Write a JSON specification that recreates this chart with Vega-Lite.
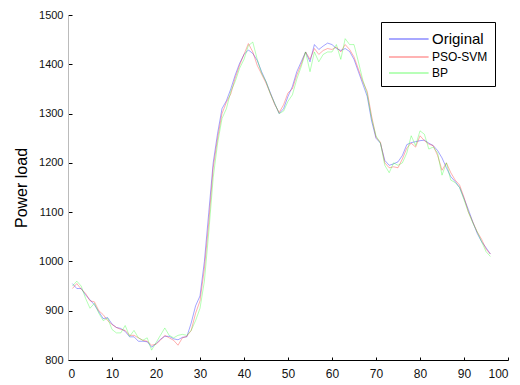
{
  "$schema": "https://vega.github.io/schema/vega-lite/v6.json",
  "width": 440,
  "height": 345,
  "autosize": {"type": "none"},
  "padding": {"left": 68, "top": 15, "right": 12, "bottom": 25},
  "background": "white",
  "config": {"view": {"stroke": null}, "font": "Liberation Sans"},
  "data": {"values": [
    {"t":1,"o":955,"p":945,"b":950},{"t":2,"o":945,"p":955,"b":960},{"t":3,"o":945,"p":944,"b":950},{"t":4,"o":932,"p":935,"b":925},{"t":5,"o":922,"p":920,"b":905},{"t":6,"o":912,"p":918,"b":915},{"t":7,"o":898,"p":900,"b":895},{"t":8,"o":884,"p":892,"b":880},{"t":9,"o":886,"p":880,"b":885},{"t":10,"o":873,"p":872,"b":862},
    {"t":11,"o":866,"p":866,"b":855},{"t":12,"o":864,"p":862,"b":855},{"t":13,"o":858,"p":860,"b":870},{"t":14,"o":847,"p":850,"b":848},{"t":15,"o":847,"p":850,"b":860},{"t":16,"o":838,"p":845,"b":845},{"t":17,"o":838,"p":840,"b":840},{"t":18,"o":837,"p":838,"b":845},{"t":19,"o":826,"p":830,"b":820},{"t":20,"o":833,"p":832,"b":835},
    {"t":21,"o":842,"p":840,"b":850},{"t":22,"o":848,"p":850,"b":865},{"t":23,"o":848,"p":845,"b":850},{"t":24,"o":843,"p":840,"b":845},{"t":25,"o":841,"p":830,"b":850},{"t":26,"o":846,"p":845,"b":852},{"t":27,"o":847,"p":848,"b":850},{"t":28,"o":875,"p":860,"b":860},{"t":29,"o":910,"p":895,"b":880},{"t":30,"o":930,"p":920,"b":905},
    {"t":31,"o":1000,"p":985,"b":960},{"t":32,"o":1100,"p":1080,"b":1060},{"t":33,"o":1200,"p":1190,"b":1170},{"t":34,"o":1260,"p":1250,"b":1240},{"t":35,"o":1310,"p":1300,"b":1290},{"t":36,"o":1326,"p":1323,"b":1310},{"t":37,"o":1350,"p":1340,"b":1345},{"t":38,"o":1378,"p":1372,"b":1365},{"t":39,"o":1402,"p":1398,"b":1392},{"t":40,"o":1420,"p":1420,"b":1410},
    {"t":41,"o":1429,"p":1442,"b":1438},{"t":42,"o":1422,"p":1425,"b":1445},{"t":43,"o":1408,"p":1398,"b":1410},{"t":44,"o":1385,"p":1380,"b":1382},{"t":45,"o":1365,"p":1362,"b":1365},{"t":46,"o":1342,"p":1340,"b":1340},{"t":47,"o":1320,"p":1318,"b":1320},{"t":48,"o":1300,"p":1302,"b":1300},{"t":49,"o":1310,"p":1318,"b":1305},{"t":50,"o":1335,"p":1342,"b":1325},
    {"t":51,"o":1355,"p":1350,"b":1338},{"t":52,"o":1385,"p":1378,"b":1370},{"t":53,"o":1405,"p":1400,"b":1395},{"t":54,"o":1425,"p":1425,"b":1425},{"t":55,"o":1405,"p":1410,"b":1385},{"t":56,"o":1440,"p":1432,"b":1425},{"t":57,"o":1430,"p":1420,"b":1405},{"t":58,"o":1437,"p":1428,"b":1420},{"t":59,"o":1443,"p":1432,"b":1425},{"t":60,"o":1440,"p":1430,"b":1425},
    {"t":61,"o":1432,"p":1435,"b":1440},{"t":62,"o":1428,"p":1425,"b":1410},{"t":63,"o":1432,"p":1440,"b":1452},{"t":64,"o":1426,"p":1430,"b":1440},{"t":65,"o":1410,"p":1415,"b":1440},{"t":66,"o":1385,"p":1390,"b":1405},{"t":67,"o":1360,"p":1365,"b":1368},{"t":68,"o":1335,"p":1345,"b":1340},{"t":69,"o":1285,"p":1295,"b":1290},{"t":70,"o":1250,"p":1252,"b":1255},
    {"t":71,"o":1240,"p":1242,"b":1240},{"t":72,"o":1205,"p":1200,"b":1195},{"t":73,"o":1195,"p":1190,"b":1180},{"t":74,"o":1198,"p":1192,"b":1200},{"t":75,"o":1202,"p":1190,"b":1195},{"t":76,"o":1215,"p":1208,"b":1200},{"t":77,"o":1237,"p":1230,"b":1220},{"t":78,"o":1241,"p":1240,"b":1255},{"t":79,"o":1243,"p":1232,"b":1235},{"t":80,"o":1245,"p":1255,"b":1265},
    {"t":81,"o":1246,"p":1245,"b":1258},{"t":82,"o":1240,"p":1238,"b":1228},{"t":83,"o":1235,"p":1235,"b":1232},{"t":84,"o":1225,"p":1215,"b":1220},{"t":85,"o":1210,"p":1185,"b":1175},{"t":86,"o":1190,"p":1200,"b":1200},{"t":87,"o":1172,"p":1180,"b":1165},{"t":88,"o":1162,"p":1165,"b":1160},{"t":89,"o":1150,"p":1155,"b":1150},{"t":90,"o":1128,"p":1130,"b":1125},
    {"t":91,"o":1105,"p":1100,"b":1100},{"t":92,"o":1080,"p":1080,"b":1078},{"t":93,"o":1057,"p":1060,"b":1060},{"t":94,"o":1040,"p":1045,"b":1040},{"t":95,"o":1028,"p":1025,"b":1020},{"t":96,"o":1015,"p":1015,"b":1010}
  ]},
  "transform": [
    {"fold": ["o", "p", "b"], "as": ["k", "v"]},
    {"lookup": "k", "from": {"data": {"values": [{"k": "o", "series": "Original", "ord": 0}, {"k": "p", "series": "PSO-SVM", "ord": 1}, {"k": "b", "series": "BP", "ord": 2}]}, "key": "k", "fields": ["series", "ord"]}}
  ],
  "mark": {"type": "line", "strokeWidth": 0.8, "opacity": 0.45},
  "encoding": {
    "x": {"field": "t", "type": "quantitative", "scale": {"domain": [0, 100], "nice": false}, "axis": {"values": [0,10,20,30,40,50,60,70,80,90,100], "title": null, "grid": false, "domainColor": "#000", "tickColor": "#000", "tickSize": -3, "labelPadding": 11, "labelFontSize": 12, "labelColor": "#111", "labelFont": "Liberation Sans", "format": "d"}},
    "y": {"field": "v", "type": "quantitative", "scale": {"domain": [800, 1500], "nice": false, "zero": false}, "axis": {"values": [800,900,1000,1100,1200,1300,1400,1500], "format": "d", "title": "Power load", "titleFontSize": 16, "titleFontWeight": "normal", "titleColor": "#000", "titlePadding": 9, "grid": false, "domainColor": "#bbb", "tickColor": "#000", "tickSize": -4, "labelPadding": 9, "labelFontSize": 11, "labelColor": "#111", "labelFont": "Liberation Sans"}},
    "order": {"field": "t", "type": "quantitative"},
    "detail": {"field": "ord"},
    "color": {
      "field": "series", "type": "nominal",
      "scale": {"domain": ["Original", "PSO-SVM", "BP"], "range": ["#0000ff", "#ff2020", "#30ff30"]},
      "legend": {
        "orient": "none", "legendX": 313, "legendY": 7, "title": null,
        "symbolType": "M-1,0H3.4", "symbolSize": 324, "symbolStrokeWidth": 1.6,
        "strokeColor": "#000", "padding": 7, "labelColor": "#000",
        "labelFont": "Liberation Sans", "rowPadding": 0, "labelOffset": 24,
        "labelFontSize": {"expr": "datum.label == 'Original' ? 15 : 12"},
        "fillColor": "white"
      }
    }
  }
}
